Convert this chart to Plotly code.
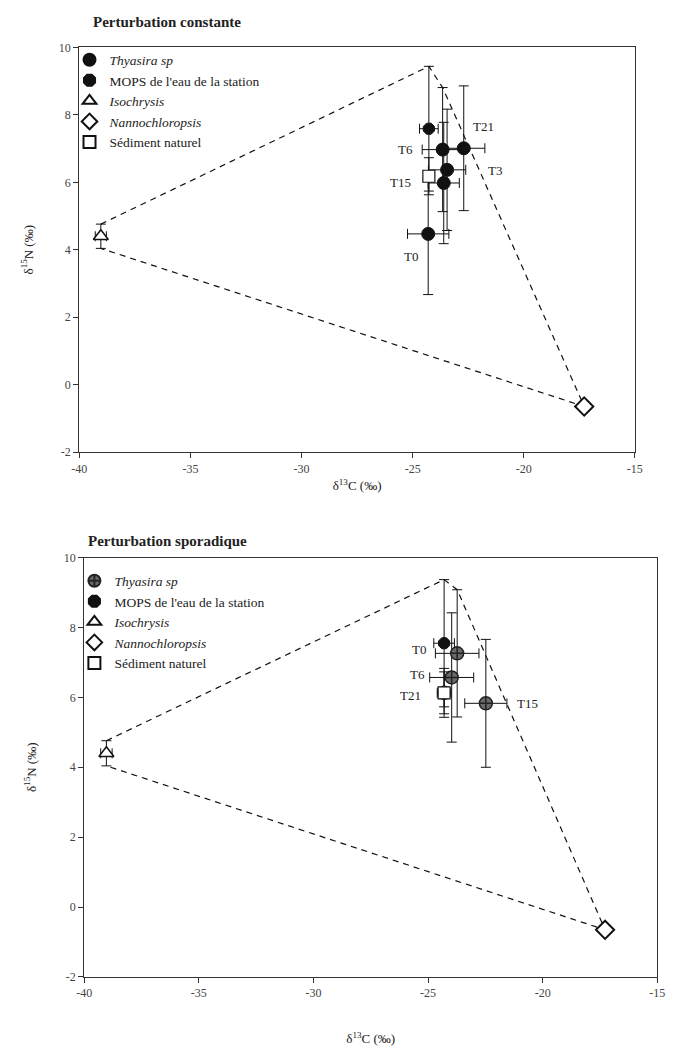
import plotly.graph_objects as go

# ---------------- data ----------------
x_ticks = [-40, -35, -30, -25, -20, -15]
x_tick_text = ["-40", "-35", "-30", "-25", "-20", "-15"]
y_ticks = [-2, 0, 2, 4, 6, 8, 10]
y_tick_text = ["-2", "0", "2", "4", "6", "8", "10"]

# Top panel: Perturbation constante
thy_top_labels = ["T0", "T3", "T6", "T15", "T21"]
thy_top_x = [-24.3, -23.45, -23.65, -23.6, -22.7]
thy_top_y = [4.47, 6.37, 6.97, 5.98, 7.01]
thy_top_ex = [0.93, 0.84, 0.92, 0.7, 0.95]
thy_top_ey = [1.8, 1.8, 1.84, 1.8, 1.85]

mops_top_x = [-24.27]
mops_top_y = [7.59]
mops_top_ex = [0.42]
mops_top_ey = [1.85]

sed_top_x = [-24.27]
sed_top_y = [6.18]
sed_top_ex = [0.2]
sed_top_ey = [0.55]

# Bottom panel: Perturbation sporadique
thy_bot_labels = ["T0", "T6", "T15", "T21"]
thy_bot_x = [-23.73, -23.97, -22.48, -24.3]
thy_bot_y = [7.26, 6.57, 5.83, 6.13]
thy_bot_ex = [0.95, 0.96, 0.92, 0.3]
thy_bot_ey = [1.82, 1.85, 1.83, 0.7]

mops_bot_x = [-24.3]
mops_bot_y = [7.55]
mops_bot_ex = [0.45]
mops_bot_ey = [1.82]

sed_bot_x = [-24.3]
sed_bot_y = [6.13]
sed_bot_ex = [0.2]
sed_bot_ey = [0.6]

# Sources (same in both panels)
iso_x = [-39.03]
iso_y = [4.4]
iso_ex = [0.25]
iso_ey = [0.36]

nanno_x = [-17.28]
nanno_y = [-0.65]
nanno_ex = [0.08]
nanno_ey = [0.08]

# ---------------- style ----------------
SERIF = "Liberation Serif"
BLACK = "#111111"

fig = go.Figure()

# label pixel offsets (layout, not data)
top_label_shift = {"T0": (-17, -23), "T3": (48, -1), "T6": (-37, 0), "T15": (-43, 0), "T21": (20, 22)}
bot_label_shift = {"T0": (-38, 4), "T6": (-34, 3), "T15": (42, 0), "T21": (-34, -3)}


def add_panel(xa, ya, legend, thy, mops, sed, thy_style, hull_idx, shifts):
    tx, ty, tex, tey, tlab = thy
    mx, my, mex, mey = mops
    sx, sy, sex, sey = sed
    # mixing polygon derived from data
    px = [iso_x[0], mx[0], tx[hull_idx], nanno_x[0], iso_x[0]]
    py = [iso_y[0] + iso_ey[0], my[0] + mey[0], ty[hull_idx] + tey[hull_idx],
          nanno_y[0], iso_y[0] - iso_ey[0]]
    fig.add_trace(go.Scatter(x=px, y=py, mode="lines", xaxis=xa, yaxis=ya,
                             line=dict(color=BLACK, width=1.2, dash="6px,5px"),
                             showlegend=False, hoverinfo="skip"))

    def eb(arr):
        return dict(type="data", array=arr, color=BLACK, thickness=1, width=5)

    fig.add_trace(go.Scatter(x=tx, y=ty, mode="markers", xaxis=xa, yaxis=ya,
                             name="<i>Thyasira sp</i>", legend=legend,
                             error_x=eb(tex), error_y=eb(tey),
                             marker=thy_style))
    fig.add_trace(go.Scatter(x=mx, y=my, mode="markers", xaxis=xa, yaxis=ya,
                             name="MOPS de l'eau de la station", legend=legend,
                             error_x=eb(mex), error_y=eb(mey),
                             marker=dict(symbol="octagon", size=12, color=BLACK,
                                         line=dict(color=BLACK, width=1))))
    fig.add_trace(go.Scatter(x=iso_x, y=iso_y, mode="markers", xaxis=xa, yaxis=ya,
                             name="<i>Isochrysis</i>", legend=legend,
                             error_x=eb(iso_ex), error_y=eb(iso_ey),
                             marker=dict(symbol="triangle-up", size=13, color="white",
                                         line=dict(color=BLACK, width=1.5))))
    fig.add_trace(go.Scatter(x=nanno_x, y=nanno_y, mode="markers", xaxis=xa, yaxis=ya,
                             name="<i>Nannochloropsis</i>", legend=legend,
                             error_x=eb(nanno_ex), error_y=eb(nanno_ey),
                             marker=dict(symbol="diamond", size=14, color="white",
                                         line=dict(color=BLACK, width=2))))
    fig.add_trace(go.Scatter(x=sx, y=sy, mode="markers", xaxis=xa, yaxis=ya,
                             name="Sédiment naturel", legend=legend,
                             error_x=eb(sex), error_y=eb(sey),
                             marker=dict(symbol="square", size=12, color="white",
                                         line=dict(color=BLACK, width=1.2))))
    for lab, x, y in zip(tlab, tx, ty):
        dx, dy = shifts[lab]
        fig.add_annotation(x=x, y=y, xref=xa, yref=ya, text=lab, showarrow=False,
                           xshift=dx, yshift=dy,
                           font=dict(family=SERIF, size=13, color="#222"))


add_panel("x", "y", "legend",
          (thy_top_x, thy_top_y, thy_top_ex, thy_top_ey, thy_top_labels),
          (mops_top_x, mops_top_y, mops_top_ex, mops_top_ey),
          (sed_top_x, sed_top_y, sed_top_ex, sed_top_ey),
          dict(symbol="circle", size=13, color=BLACK, line=dict(color=BLACK, width=1)),
          2, top_label_shift)

add_panel("x2", "y2", "legend2",
          (thy_bot_x, thy_bot_y, thy_bot_ex, thy_bot_ey, thy_bot_labels),
          (mops_bot_x, mops_bot_y, mops_bot_ex, mops_bot_ey),
          (sed_bot_x, sed_bot_y, sed_bot_ex, sed_bot_ey),
          dict(symbol="circle-cross", size=13, color="#6a6a6a", line=dict(color="#222", width=1.5)),
          0, bot_label_shift)

W, H = 679, 1055
axis_common = dict(showgrid=False, zeroline=False, showline=True, linecolor="#333",
                   linewidth=1.2, mirror=True, ticks="outside", ticklen=5,
                   tickcolor="#333", tickfont=dict(family=SERIF, size=12, color="#444"))

xt = "δ<sup>13</sup>C (‰)"
yt = "δ<sup>15</sup>N (‰)"

fig.update_layout(
    width=W, height=H, margin=dict(l=0, r=0, t=0, b=0),
    paper_bgcolor="white", plot_bgcolor="white",
    font=dict(family=SERIF, color="#222"),
    xaxis=dict(domain=[73 / W, 642 / W], range=[-40, -15], anchor="y",
               tickvals=x_ticks, ticktext=x_tick_text,
               title=dict(text=xt, font=dict(family=SERIF, size=13), standoff=6),
               **axis_common),
    yaxis=dict(domain=[1 - 451 / H, 1 - 41 / H], range=[-2, 10], anchor="x",
               tickvals=y_ticks, ticktext=y_tick_text,
               title=dict(text=yt, font=dict(family=SERIF, size=13), standoff=22),
               **axis_common),
    xaxis2=dict(domain=[78 / W, 665 / W], range=[-40, -15], anchor="y2",
                tickvals=x_ticks, ticktext=x_tick_text,
                title=dict(text=xt, font=dict(family=SERIF, size=13), standoff=34),
                **axis_common),
    yaxis2=dict(domain=[1 - 983 / H, 1 - 558 / H], range=[-2, 10], anchor="x2",
                tickvals=y_ticks, ticktext=y_tick_text,
                title=dict(text=yt, font=dict(family=SERIF, size=13), standoff=24),
                **axis_common),
    legend=dict(x=63 / W, y=1 - 38 / H, xanchor="left", yanchor="top",
                bgcolor="rgba(255,255,255,0)", font=dict(family=SERIF, size=13.5, color="#222"),
                tracegroupgap=0, itemsizing="constant"),
    legend2=dict(x=68 / W, y=1 - 566 / H, xanchor="left", yanchor="top",
                 bgcolor="rgba(255,255,255,0)", font=dict(family=SERIF, size=13.5, color="#222"),
                 tracegroupgap=0, itemsizing="constant"),
    annotations=list(fig.layout.annotations) + [
        dict(text="<b>Perturbation constante</b>", x=85 / W, y=1 - 15 / H,
             xref="paper", yref="paper", xanchor="left", yanchor="middle",
             showarrow=False, font=dict(family=SERIF, size=15, color="#222")),
        dict(text="<b>Perturbation sporadique</b>", x=80 / W, y=1 - 541 / H,
             xref="paper", yref="paper", xanchor="left", yanchor="middle",
             showarrow=False, font=dict(family=SERIF, size=15, color="#222")),
    ],
)

fig.write_html("out.html")
